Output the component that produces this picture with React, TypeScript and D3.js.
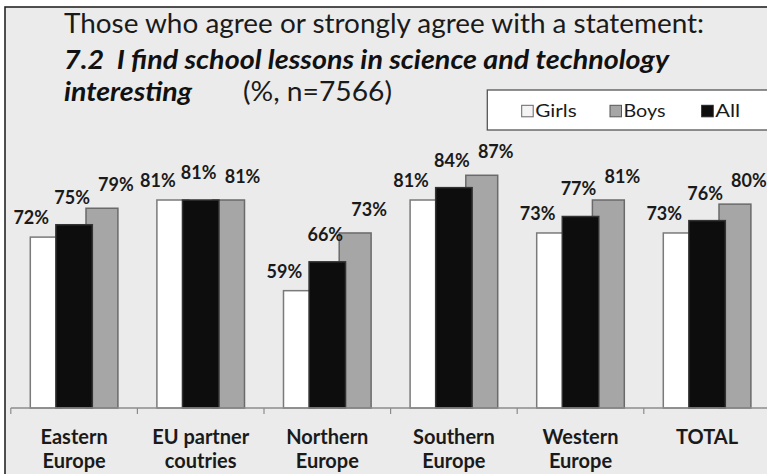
import React from "react";
import * as d3 from "d3";

const categories = ["Eastern Europe", "EU partner coutries", "Northern Europe", "Southern Europe", "Western Europe", "TOTAL"];
const categoryLines = [["Eastern", "Europe"], ["EU partner", "coutries"], ["Northern", "Europe"], ["Southern", "Europe"], ["Western", "Europe"], ["TOTAL"]];
const girls = [72, 81, 59, 81, 73, 73];
const boys = [79, 81, 73, 87, 81, 80];
const all = [75, 81, 66, 84, 77, 76];
const legendItems = ["Girls", "Boys", "All"];

const W = 767;
const H = 474;
const FONT = "Lato, 'Open Sans', sans-serif";

export default function App() {
  const axisY = 408;
  const x = d3.scaleBand<string>().domain(categories).range([10.8, 10.8 + 126.6 * 6]).paddingInner(0).paddingOuter(0);
  const y = d3.scaleLinear().domain([30, 100]).range([410.2, 121.7]);
  const bw = x.bandwidth();
  const sideW = bw * 0.252;
  const sidePad = bw * 0.154;
  const allW = bw * 0.288;

  const series = [
    { key: "Girls", values: girls, fill: "#ffffff", stroke: "#7a7a7a", off: (x0: number) => x0 + sidePad, w: sideW, dx: -15, gap: 13 },
    { key: "Boys", values: boys, fill: "#a6a6a6", stroke: "#6a6a6a", off: (x0: number) => x0 + bw - sidePad - sideW, w: sideW, dx: 14, gap: 17 },
    { key: "All", values: all, fill: "#0d0d0d", stroke: "#333333", off: (x0: number) => x0 + bw / 2 - allW / 2, w: allW, dx: -2, gap: 21 },
  ];
  const legendFill: Record<string, { fill: string; stroke: string }> = {
    Girls: { fill: "#f4f4f4", stroke: "#666" },
    Boys: { fill: "#a6a6a6", stroke: "#555" },
    All: { fill: "#0d0d0d", stroke: "#222" },
  };
  const legendX = [521.7, 610, 701.7];
  const legendTextLen = [41.5, 42, 25];

  const ticks = d3.range(categories.length + 1).map((i) => 10.8 + i * bw);

  return (
    <svg width={W} height={H} style={{ position: "absolute", left: 0, top: 0, background: "#ffffff" }} fontFamily={FONT}>
      <rect x={5} y={7} width={820} height={520} fill="#ebebeb" stroke="#262626" strokeWidth={1.6} />

      <text x={64} y={33.3} fontSize={27} fill="#1a1a1a" textLength={640} lengthAdjust="spacingAndGlyphs">
        Those who agree or strongly agree with a statement:
      </text>
      <text x={64} y={68.5} fontSize={27} fontWeight="bold" fontStyle="italic" fill="#111" textLength={605} lengthAdjust="spacingAndGlyphs" xmlSpace="preserve">
        7.2  I find school lessons in science and technology
      </text>
      <text x={64} y={101} fontSize={27} fontWeight="bold" fontStyle="italic" fill="#111" textLength={128} lengthAdjust="spacingAndGlyphs">
        interesting
      </text>
      <text x={243} y={101} fontSize={27} fill="#1a1a1a" textLength={149} lengthAdjust="spacingAndGlyphs">
        (%, n=7566)
      </text>

      <rect x={487.3} y={90} width={290} height={40} fill="#ffffff" stroke="#555" strokeWidth={1.3} />
      {legendItems.map((k, i) => (
        <g key={k}>
          <rect x={legendX[i]} y={105.3} width={11.5} height={11.5} fill={legendFill[k].fill} stroke={legendFill[k].stroke} strokeWidth={1} />
          <text x={legendX[i] + 13.5} y={116.8} fontSize={18} fill="#1a1a1a" textLength={legendTextLen[i]} lengthAdjust="spacingAndGlyphs">
            {k}
          </text>
        </g>
      ))}

      {series.map((s) => (
        <g key={s.key}>
          {categories.map((c, i) => {
            const x0 = x(c) as number;
            const top = y(s.values[i]);
            return (
              <rect key={c} x={s.off(x0)} y={top} width={s.w} height={axisY - top} fill={s.fill} stroke={s.stroke} strokeWidth={1.5} />
            );
          })}
        </g>
      ))}

      {series.map((s) => (
        <g key={s.key + "-lab"}>
          {categories.map((c, i) => {
            const x0 = x(c) as number;
            const top = y(s.values[i]);
            return (
              <text key={c} x={s.off(x0) + s.w / 2 + s.dx} y={top - s.gap} textAnchor="middle" fontSize={18} fontWeight="bold" fill="#1a1a1a">
                {s.values[i]}%
              </text>
            );
          })}
        </g>
      ))}

      <line x1={10.8} x2={W + 10} y1={axisY} y2={axisY} stroke="#8c8c8c" strokeWidth={1.5} />
      {ticks.map((t, i) => (
        <line key={i} x1={t} x2={t} y1={axisY} y2={axisY + 6} stroke="#8c8c8c" strokeWidth={1.2} />
      ))}

      {categories.map((c, i) => (
        <text key={c} x={(x(c) as number) + bw / 2} textAnchor="middle" fontSize={20} fontWeight="bold" fill="#1a1a1a">
          {categoryLines[i].map((ln, j) => (
            <tspan key={j} x={(x(c) as number) + bw / 2} y={444 + j * 24}>
              {ln}
            </tspan>
          ))}
        </text>
      ))}
    </svg>
  );
}
